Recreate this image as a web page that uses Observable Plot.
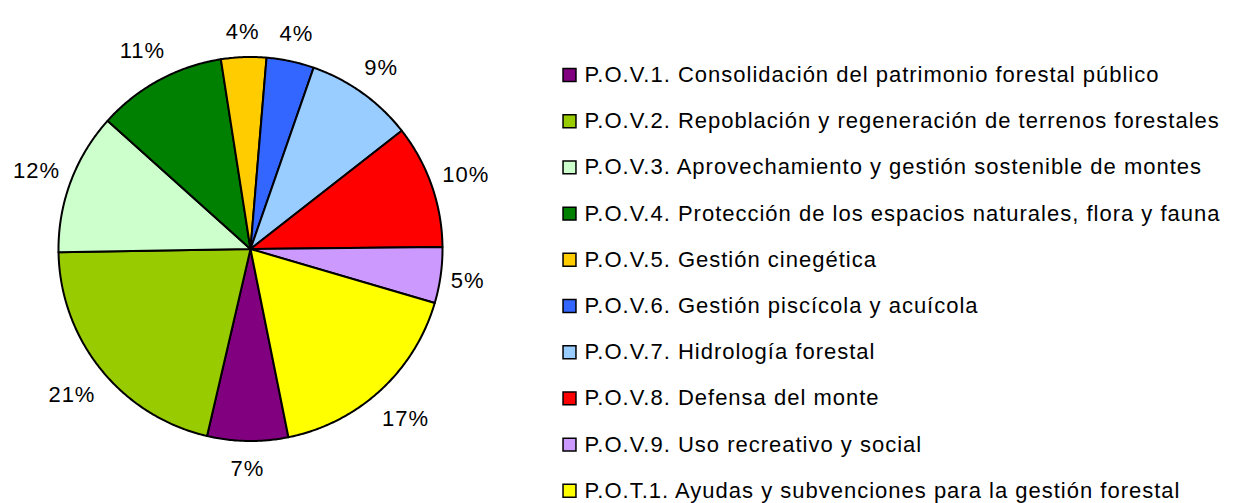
<!DOCTYPE html>
<html>
<head>
<meta charset="utf-8">
<script src="https://cdn.jsdelivr.net/npm/d3@7"></script>
<script src="https://cdn.jsdelivr.net/npm/@observablehq/plot@0.6"></script>
<style>
  html, body { margin: 0; padding: 0; background: #fff; }
  #chart svg { display: block; }
</style>
</head>
<body>
<div id="chart"></div>
<script>
// ---- data ----
const categories = [
  "P.O.V.1. Consolidación del patrimonio forestal público",
  "P.O.V.2. Repoblación y regeneración de terrenos forestales",
  "P.O.V.3. Aprovechamiento y gestión sostenible de montes",
  "P.O.V.4. Protección de los espacios naturales, flora y fauna",
  "P.O.V.5. Gestión cinegética",
  "P.O.V.6. Gestión piscícola y acuícola",
  "P.O.V.7. Hidrología forestal",
  "P.O.V.8. Defensa del monte",
  "P.O.V.9. Uso recreativo y social",
  "P.O.T.1. Ayudas y subvenciones para la gestión forestal"
];
const shares = [6.8, 21.1, 11.9, 10.9, 3.8, 4.0, 9.1, 10.4, 4.7, 17.3];
const colors = ["#800080", "#99CC00", "#CCFFCC", "#008000", "#FFCC00",
                "#3366FF", "#99CCFF", "#FF0000", "#CC99FF", "#FFFF00"];

// ---- layout ----
const W = 1233, H = 503;
const cx = 250, cy = 248.5, R = 192;   // pie centre and radius in pixels
const startDeg = 168.6;                // first slice starts here (clockwise from 12 o'clock)
const font = "Liberation Sans, Arial, Helvetica, sans-serif";
const fontSize = 22;
const spacing = 1;

const total = d3.sum(shares);
const slices = [];
const labels = [];
let acc = 0;
const ctx = document.createElement("canvas").getContext("2d");
ctx.font = `${fontSize}px ${font}`;
shares.forEach((v, i) => {
  const a0 = startDeg + acc / total * 360;
  acc += v;
  const a1 = startDeg + acc / total * 360;
  const pts = [{cat: categories[i], x: 0, y: 0}];
  const n = Math.max(2, Math.ceil((a1 - a0) / 0.5));
  for (let k = 0; k <= n; k++) {
    const a = (a0 + (a1 - a0) * k / n) * Math.PI / 180;
    pts.push({cat: categories[i], x: Math.sin(a), y: -Math.cos(a)});
  }
  slices.push(...pts);
  const am = (a0 + a1) / 2 * Math.PI / 180;
  const ux = Math.sin(am), uy = -Math.cos(am);
  const text = Math.round(v / total * 100) + "%";
  const w = ctx.measureText(text).width + spacing * text.length;
  const d = R + 8 + (w / 2) * Math.abs(ux) + 18 * Math.abs(uy);
  labels.push({text, x: ux * d / R, y: (uy * d + 1.5) / R});
});

// legend rows (in pie units)
const legX = (569 - cx) / R, legTextX = (584 - cx) / R;
const legend = categories.map((c, i) => ({
  cat: c, y: (74.5 + i * 46.2 - cy) / R
}));

const chart = Plot.plot({
  width: W, height: H,
  margin: 0,
  style: {fontFamily: font, background: "#fff", letterSpacing: spacing + "px"},
  x: {domain: [-cx / R, (W - cx) / R], range: [0, W], axis: null},
  y: {domain: [-cy / R, (H - cy) / R], range: [0, H], axis: null},
  color: {domain: categories, range: colors},
  marks: [
    Plot.line(slices, {x: "x", y: "y", z: "cat", fill: "cat", stroke: "#000",
      strokeWidth: 2, curve: "linear-closed", strokeLinejoin: "round"}),
    Plot.text(labels, {x: "x", y: "y", text: "text", fontSize, fill: "#000"}),
    Plot.dot(legend, {x: () => legX, y: "y", symbol: "square", r: 7.3,
      fill: "cat", stroke: "#000", strokeWidth: 1.5}),
    Plot.text(legend, {x: () => legTextX, y: "y", text: "cat", textAnchor: "start",
      fontSize, fill: "#000"})
  ]
});
document.getElementById("chart").appendChild(chart);
</script>
</body>
</html>
